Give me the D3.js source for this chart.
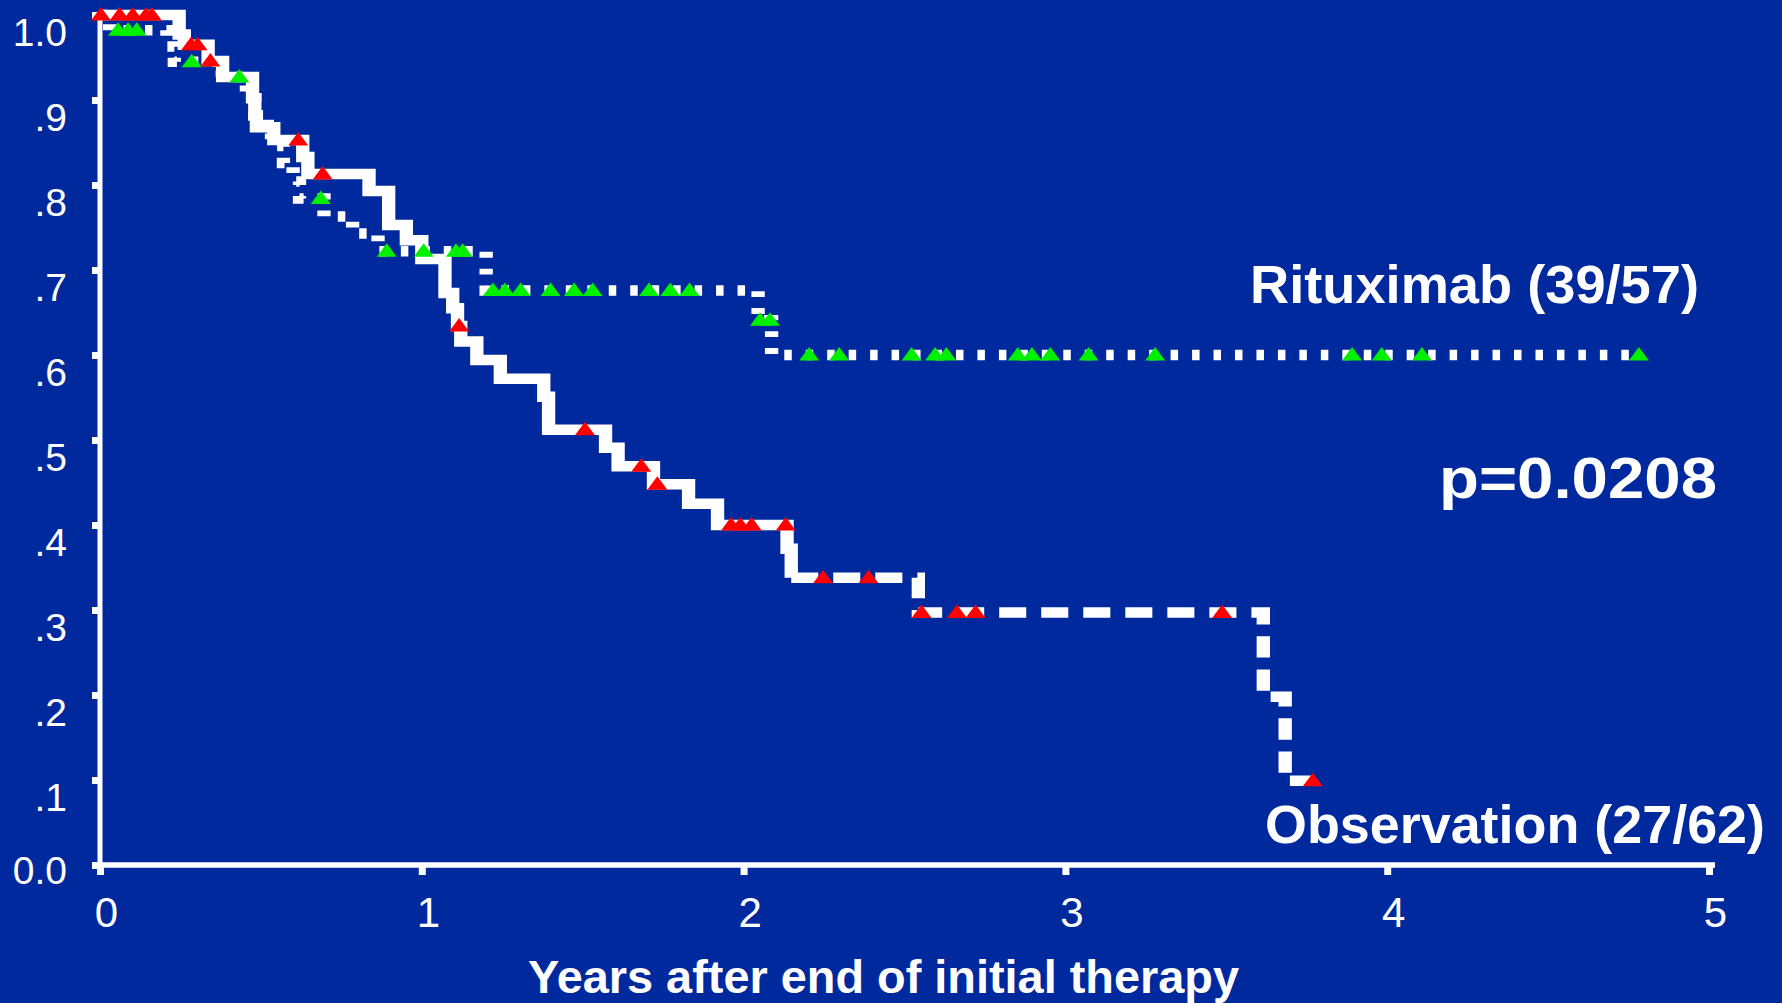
<!DOCTYPE html>
<html>
<head>
<meta charset="utf-8">
<title>Survival after end of initial therapy</title>
<script src="https://cdn.jsdelivr.net/npm/d3@7"></script>
<style>
  html, body { margin: 0; padding: 0; background: #01299e; }
  svg { display: block; }
</style>
</head>
<body>
<svg id="chart" width="1782" height="1003"></svg>
<script>
// ---- Kaplan-Meier data (years after end of initial therapy) ----
// Observation arm: times at which the curve steps and the level reached at each step
const obsStepTimes  = [0, 0.246, 0.262, 0.336, 0.381, 0.474, 0.481, 0.486, 0.540, 0.630, 0.646, 0.836, 0.897, 0.952, 1.000, 1.072, 1.096, 1.111, 1.121, 1.171, 1.244, 1.379, 1.394, 1.571, 1.610, 1.720, 1.829, 1.919, 2.135, 2.148, 2.543, 3.615, 3.683];
const obsStepValues = [1.000, 0.977, 0.965, 0.946, 0.927, 0.902, 0.882, 0.868, 0.853, 0.833, 0.813, 0.793, 0.753, 0.735, 0.713, 0.673, 0.655, 0.634, 0.616, 0.594, 0.572, 0.551, 0.512, 0.491, 0.469, 0.448, 0.425, 0.400, 0.372, 0.338, 0.297, 0.198, 0.099];
const obsEndTime = 3.769;
const obsDashedFrom = 2.148;   // later follow-up drawn with long dashes
const obsCensorTimes = [0.003, 0.061, 0.102, 0.143, 0.161, 0.283, 0.303, 0.343, 0.616, 0.692, 1.116, 1.507, 1.682, 1.732, 1.961, 1.990, 2.025, 2.131, 2.247, 2.388, 2.553, 2.663, 2.721, 3.487, 3.769];

// Rituximab arm
const ritStepTimes  = [0, 0.030, 0.208, 0.231, 0.380, 0.455, 0.481, 0.520, 0.533, 0.570, 0.600, 0.620, 0.696, 0.785, 0.864, 1.200, 2.045, 2.087];
const ritStepValues = [1.000, 0.982, 0.963, 0.945, 0.927, 0.902, 0.882, 0.864, 0.846, 0.826, 0.804, 0.784, 0.763, 0.743, 0.722, 0.676, 0.641, 0.600];
const ritEndTime = 4.782;
const ritCensorTimes = [0.056, 0.087, 0.114, 0.285, 0.433, 0.686, 0.891, 1.006, 1.106, 1.127, 1.221, 1.258, 1.307, 1.400, 1.473, 1.531, 1.706, 1.772, 1.832, 2.051, 2.082, 2.204, 2.297, 2.522, 2.595, 2.630, 2.852, 2.896, 2.953, 3.072, 3.279, 3.891, 3.983, 4.108, 4.782];

// Axis ticks and labels
const xTickValues = [0, 1, 2, 3, 4, 5];
const yTickValues = [0, 0.1, 0.2, 0.3, 0.4, 0.5, 0.6, 0.7, 0.8, 0.9, 1.0];
const yTickLabels = ["0.0", ".1", ".2", ".3", ".4", ".5", ".6", ".7", ".8", ".9", "1.0"];

// Text
const ritLabel = "Rituximab (39/57)";
const obsLabel = "Observation (27/62)";
const pLabel = "p=0.0208";
const xTitle = "Years after end of initial therapy";

// ---- drawing ----
const W = 1782, H = 1003;
const BG = "#01299e";
const FONT = "'Liberation Sans', Arial, Helvetica, sans-serif";

const svg = d3.select("#chart");
svg.append("rect").attr("width", W).attr("height", H).attr("fill", BG);

const x = d3.scaleLinear().domain([0, 5]).range([100, 1709]);
const y = d3.scaleLinear().domain([0, 1]).range([865, 15]);

// curves are drawn in a horizontally stretched group, so vertical strokes come out wider
const k = 1.27;
const xk = d3.scaleLinear().domain([0, 5]).range([100 / k, 1709 / k]);

// axes
const yAxis = d3.axisLeft(y).tickValues(yTickValues).tickSize(8)
  .tickFormat((d, i) => yTickLabels[i]);
const gy = svg.append("g").attr("transform", "translate(100,0)").call(yAxis);
gy.select(".domain").remove();
gy.selectAll(".tick line").attr("stroke", "#fff").attr("stroke-width", 7);
gy.selectAll(".tick text")
  .attr("fill", "#fff").attr("font-family", FONT).attr("font-size", 39)
  .attr("x", -33).attr("dy", 0).attr("y", d => d === 0 ? 18 : 30)
  .attr("text-anchor", "end");

const xAxis = d3.axisBottom(x).tickValues(xTickValues).tickSize(10).tickFormat(d3.format("d"));
const gx = svg.append("g").attr("transform", "translate(0,865)").call(xAxis);
gx.select(".domain").remove();
gx.selectAll(".tick line").attr("stroke", "#fff").attr("stroke-width", 7);
gx.selectAll(".tick text")
  .attr("fill", "#fff").attr("font-family", FONT).attr("font-size", 42)
  .attr("dy", 0).attr("y", 62).attr("dx", 6);

svg.append("line").attr("x1", 100).attr("x2", 100).attr("y1", 13).attr("y2", 868)
  .attr("stroke", "#fff").attr("stroke-width", 5);
svg.append("line").attr("x1", 96).attr("x2", 1715).attr("y1", 865).attr("y2", 865)
  .attr("stroke", "#fff").attr("stroke-width", 5.5);

// step curves
function stepPoints(times, values, endTime) {
  const pts = times.map((t, i) => [t, values[i]]);
  pts.push([endTime, values[values.length - 1]]);
  return pts;
}
const stepLine = d3.line().x(d => xk(d[0])).y(d => y(d[1])).curve(d3.curveStepAfter);

const curves = svg.append("g").attr("transform", `scale(${k},1)`)
  .attr("fill", "none").attr("stroke", "#fff").attr("stroke-width", 10.5)
  .attr("stroke-linecap", "butt");

const ritPts = stepPoints(ritStepTimes, ritStepValues, ritEndTime);
curves.append("path").attr("d", stepLine(ritPts)).attr("stroke-dasharray", "5.9,11");

const obsPts = stepPoints(obsStepTimes, obsStepValues, obsEndTime);
const split = obsPts.findIndex(p => p[0] >= obsDashedFrom);
curves.append("path").attr("d", stepLine(obsPts.slice(0, split + 1)));
curves.append("path").attr("d", stepLine(obsPts.slice(split))).attr("stroke-dasharray", "21.3,11.8");

// censor marks
function levelAt(times, values, t) {
  return values[Math.max(0, d3.bisectRight(times, t) - 1)];
}
const tri = "M-10,5.5L10,5.5L0,-8Z";
svg.append("g").selectAll("path").data(ritCensorTimes).join("path")
  .attr("d", tri).attr("fill", "#00f000")
  .attr("transform", t => `translate(${x(t)},${y(levelAt(ritStepTimes, ritStepValues, t))})`);
svg.append("g").selectAll("path").data(obsCensorTimes).join("path")
  .attr("d", tri).attr("fill", "#ff0000")
  .attr("transform", t => `translate(${x(t)},${y(levelAt(obsStepTimes, obsStepValues, t))})`);

// labels
function label(text, px, py, size, len, anchor) {
  svg.append("text").text(text)
    .attr("x", px).attr("y", py)
    .attr("fill", "#fff").attr("font-family", FONT).attr("font-weight", "bold")
    .attr("font-size", size).attr("text-anchor", anchor || "start")
    .attr("textLength", len).attr("lengthAdjust", "spacingAndGlyphs");
}
label(ritLabel, 1250, 303, 54, 449);
label(pLabel, 1439, 498, 58, 278);
label(obsLabel, 1265, 843, 54, 500);
label(xTitle, 883.5, 993, 46, 711, "middle");
</script>
</body>
</html>
